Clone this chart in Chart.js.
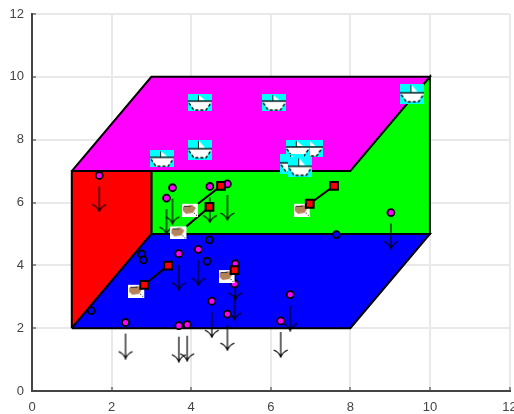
<!DOCTYPE html>
<html>
<head>
<meta charset="utf-8">
<style>
  html, body { margin: 0; padding: 0; background: #fff; overflow: hidden; }
  canvas { display: block; filter: blur(0.7px); }
</style>
<script src="https://cdn.jsdelivr.net/npm/chart.js@4/dist/chart.umd.js"></script>
</head>
<body>
<!-- a bit wider than the window: the last x label runs off the edge -->
<canvas id="myChart" width="517" height="414"></canvas>
<script>
// faces of the box
const topFaceX = [1, 3, 10, 8, 1];
const topFaceY = [7, 10, 10, 7, 7];
const backFaceX = [3, 8, 10, 10, 3, 3];
const backFaceY = [7, 7, 10, 5, 5, 7];
const sideFaceX = [1, 1, 3, 3, 1];
const sideFaceY = [2, 7, 7, 5, 2];
const floorFaceX = [1, 3, 10, 8, 1];
const floorFaceY = [2, 5, 5, 2, 2];

// magenta points, each one with a down arrow
const limitX = [1.69, 3.53, 3.38, 4.47, 4.91, 2.35, 3.69, 4.18, 3.69, 3.90, 4.52, 4.91, 5.11, 5.09, 9.02, 6.49, 6.25];
const limitY = [6.86, 6.47, 6.14, 6.51, 6.59, 2.18, 4.37, 4.51, 2.08, 2.11, 2.86, 2.45, 4.05, 3.41, 5.68, 3.07, 2.23];

// blue points
const circleX = [1.49, 2.76, 2.80, 4.46, 4.40, 7.65];
const circleY = [2.56, 4.36, 4.17, 4.81, 4.13, 4.98];

// short lines (null splits them)
const linkX = [2.82, 3.42, null, 6.98, 7.59, null, 3.88, 4.46, null, 4.17, 4.75];
const linkY = [3.38, 3.99, null, 5.96, 6.53, null, 5.24, 5.86, null, 5.96, 6.53];

// red squares
const squareX = [2.82, 3.42, 5.09, 6.98, 7.59, 4.46, 4.75];
const squareY = [3.38, 3.99, 3.85, 5.96, 6.53, 5.86, 6.53];

// hand icons
const handX = [2.82, 5.09, 6.98, 3.88, 4.17];
const handY = [3.38, 3.85, 5.96, 5.24, 5.96];

// boat icons, flat and tall
const boatX = [7.0, 6.68, 4.22, 6.09, 3.27];
const boatY = [7.72, 7.72, 9.18, 9.18, 7.39];
const tallBoatX = [6.54, 6.74, 4.22, 9.56];
const tallBoatY = [7.23, 7.12, 7.68, 9.46];

const tickValues = [0, 2, 4, 6, 8, 10, 12];

function pts(xs, ys) {
  return xs.map((x, i) => ({ x: x, y: ys[i] }));
}

function makeSprite(w, h, draw) {
  const c = document.createElement('canvas');
  c.width = w;
  c.height = h;
  draw(c.getContext('2d'));
  return c;
}

// arrow hangs under the point, sprite is centred on the point
const arrowSprite = makeSprite(16, 74, (g) => {
  g.strokeStyle = '#000';
  g.lineWidth = 1.2;
  g.beginPath();
  g.moveTo(8, 48);
  g.lineTo(8, 73);
  g.moveTo(1, 66);
  g.quadraticCurveTo(6, 68, 8, 73);
  g.quadraticCurveTo(10, 68, 15, 66);
  g.stroke();
});

// hand sits lower left of its point
const handSprite = makeSprite(32, 26, (g) => {
  g.fillStyle = '#fff';
  g.fillRect(0, 13, 16, 13);
  g.fillStyle = '#b5835a';
  g.beginPath();
  g.moveTo(1, 16);
  g.lineTo(10, 14);
  g.lineTo(14, 17);
  g.lineTo(11, 22);
  g.lineTo(4, 23);
  g.lineTo(1, 20);
  g.closePath();
  g.fill();
  g.fillStyle = '#333';
  g.fillRect(2, 15, 7, 1);
  g.fillRect(12, 22, 1, 1);
  g.fillRect(14, 24, 1, 1);
});

function boat(h, deckY, sailH) {
  return makeSprite(24, h, (g) => {
    g.fillStyle = '#00ffff';
    g.fillRect(0, 0, 24, h);
    g.fillStyle = '#fff';
    g.beginPath();
    g.moveTo(11, deckY - sailH);
    g.lineTo(17, deckY - 1);
    g.lineTo(11, deckY - 1);
    g.closePath();
    g.fill();
    g.fillStyle = '#222';
    g.fillRect(10, deckY - sailH, 1, sailH);
    g.fillStyle = '#fff';
    g.beginPath();
    g.moveTo(0, deckY);
    g.lineTo(24, deckY);
    g.lineTo(18, deckY + 9);
    g.lineTo(6, deckY + 9);
    g.closePath();
    g.fill();
    g.strokeStyle = '#000';
    g.lineWidth = 1.3;
    g.beginPath();
    g.moveTo(0, deckY);
    g.lineTo(24, deckY);
    g.stroke();
    g.setLineDash([3, 2]);
    g.beginPath();
    g.moveTo(1, deckY + 2);
    g.lineTo(6, deckY + 9);
    g.lineTo(18, deckY + 9);
    g.lineTo(23, deckY + 2);
    g.stroke();
  });
}
const boatSprite = boat(17, 7, 6);
const tallBoatSprite = boat(20, 9, 8);

function faceDataset(xs, ys, color, order) {
  return {
    data: pts(xs, ys),
    showLine: true,
    fill: 'shape',
    backgroundColor: color,
    borderColor: '#000',
    borderWidth: 2,
    pointRadius: 0,
    order: order,
  };
}

function iconDataset(xs, ys, sprite, order) {
  return {
    data: pts(xs, ys),
    showLine: false,
    pointStyle: sprite,
    order: order,
  };
}

const myChart = document.getElementById('myChart');
const chart = new Chart(myChart, {
  type: 'scatter',
  data: {
    datasets: [
      faceDataset(topFaceX, topFaceY, '#ff00ff', 13),
      faceDataset(backFaceX, backFaceY, '#00ff00', 12),
      faceDataset(sideFaceX, sideFaceY, '#ff0000', 11),
      faceDataset(floorFaceX, floorFaceY, '#0000ff', 10),
      iconDataset(boatX, boatY, boatSprite, 9),
      iconDataset(tallBoatX, tallBoatY, tallBoatSprite, 8),
      {
        data: pts(circleX, circleY),
        pointRadius: 3.5,
        pointBackgroundColor: '#0000ff',
        pointBorderColor: '#000',
        pointBorderWidth: 1.8,
        order: 7,
      },
      iconDataset(limitX, limitY, arrowSprite, 6),
      {
        data: pts(limitX, limitY),
        pointRadius: 3.5,
        pointBackgroundColor: '#ff00ff',
        pointBorderColor: '#000',
        pointBorderWidth: 1.8,
        order: 5,
      },
      {
        data: pts(linkX, linkY),
        showLine: true,
        spanGaps: false,
        borderColor: '#000',
        borderWidth: 2,
        pointRadius: 0,
        order: 4,
      },
      iconDataset(handX, handY, handSprite, 3),
      {
        data: pts(squareX, squareY),
        pointStyle: 'rect',
        pointRadius: 5.5,
        pointBackgroundColor: '#ff0000',
        pointBorderColor: '#000',
        pointBorderWidth: 2,
        order: 2,
      },
    ],
  },
  options: {
    responsive: false,
    animation: false,
    events: [],
    layout: { padding: { top: 14, right: 0, left: 0, bottom: 0 } },
    plugins: {
      legend: { display: false },
      title: { display: false },
      tooltip: { enabled: false },
    },
    scales: {
      x: {
        type: 'linear',
        min: 0,
        max: 12,
        afterBuildTicks: (scale) => { scale.ticks = tickValues.map((v) => ({ value: v })); },
        afterFit: (scale) => { scale.height = 23; scale.paddingLeft = 0; scale.paddingRight = 0; },
        border: { color: '#444', width: 2 },
        grid: { color: '#e9e9e9', lineWidth: 2, tickLength: -4, tickColor: '#333', tickWidth: 1 },
        ticks: { color: '#444', padding: 13, maxRotation: 0, font: { family: 'Liberation Sans', size: 13 } },
      },
      y: {
        type: 'linear',
        min: 0,
        max: 12,
        afterBuildTicks: (scale) => { scale.ticks = tickValues.map((v) => ({ value: v })); },
        afterFit: (scale) => { scale.width = 32; scale.paddingTop = 0; scale.paddingBottom = 0; },
        border: { color: '#444', width: 2 },
        grid: { color: '#e9e9e9', lineWidth: 2, tickLength: -4, tickColor: '#333', tickWidth: 1 },
        ticks: { color: '#444', padding: 12, font: { family: 'Liberation Sans', size: 13 } },
      },
    },
  },
});
</script>
</body>
</html>
